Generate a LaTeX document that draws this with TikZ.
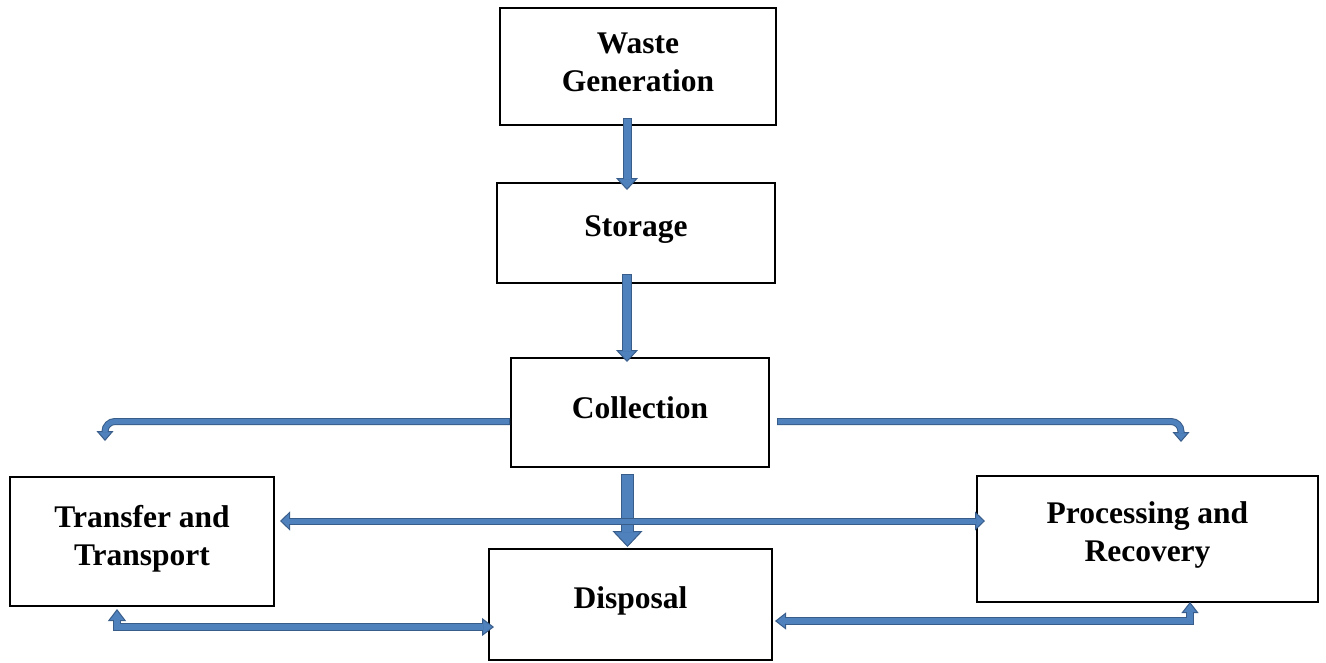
\documentclass[tikz,border=0pt]{standalone}
\usepackage{fontspec}
\setmainfont{Liberation Serif}
\usetikzlibrary{arrows.meta,calc}
\definecolor{afill}{HTML}{4F81BD}
\definecolor{aline}{HTML}{385D8A}
\tikzset{
  txt/.style={align=center, inner sep=0pt, font=\bfseries\fontsize{31.5}{38}\selectfont},
  box/.style n args={2}{draw=black, line width=2pt, inner sep=0pt,
    label={[txt, yshift=#2]center:#1}},
  blk/.style n args={5}{line width=#1, draw=aline,
    -{Triangle[length=#4, width=#3, line width=1pt, fill=afill]},
    postaction={draw=afill, line width=#2, arrows=-, shorten >=#5, shorten <=1pt}},
  blkd/.style n args={5}{line width=#1, draw=aline,
    {Triangle[length=#4, width=#3, line width=1pt, fill=afill]}-{Triangle[length=#4, width=#3, line width=1pt, fill=afill]},
    postaction={draw=afill, line width=#2, arrows=-, shorten >=#5, shorten <=#5}}
}
\begin{document}
\begin{tikzpicture}[x=1pt,y=-1pt]
\useasboundingbox (0,0) rectangle (1326,662);
\node[box={Waste\\Generation}{4pt}, minimum width=276, minimum height=117] (wg) at (638,66.5) {};
\node[box={Storage}{3pt}, minimum width=278, minimum height=100] (st) at (636,233) {};
\node[box={Collection}{5pt}, minimum width=258, minimum height=109] (co) at (640,412.5) {};
\node[box={Transfer and\\Transport}{3pt}, minimum width=264, minimum height=129] (tt) at (142,541.5) {};
\node[box={Disposal}{4pt}, minimum width=283, minimum height=111] (di) at (630.5,604.5) {};
\node[box={Processing and\\Recovery}{4pt}, minimum width=341, minimum height=126] (pr) at (1147.5,539) {};

\draw[blk={9pt}{7pt}{22pt}{12pt}{10.8pt}] ($(wg.south)+(-11,-8)$) -- ($(st.north)+(-9,8)$);
\draw[blk={10pt}{8pt}{22pt}{12pt}{10.8pt}] ($(st.south)+(-9,-10)$) -- ($(co.north)+(-13,5)$);
\draw[blk={13pt}{11pt}{30pt}{16pt}{14.8pt}] ($(co.south)+(-12.5,6)$) -- ($(di.north)+(-3,-1)$);
\draw[blk={7pt}{5pt}{17pt}{10pt}{8.8pt}, rounded corners=10pt] ($(co.west)+(0,9)$) -| ($(tt.north)+(-37,-35)$);
\draw[blk={7pt}{5pt}{17pt}{10pt}{8.8pt}, rounded corners=10pt] ($(co.east)+(7,9)$) -| ($(pr.north)+(33.5,-33)$);
\draw[blkd={7pt}{5pt}{19pt}{10pt}{8.8pt}] ($(tt.east)+(5,-20.5)$) -- ($(pr.west)+(9,-18)$);
\draw[blkd={8pt}{6pt}{18pt}{12pt}{10.8pt}] ($(tt.south)+(-25,2)$) |- ($(di.west)+(6,22.5)$);
\draw[blkd={8pt}{6pt}{17pt}{11pt}{9.8pt}] ($(di.east)+(2,16.5)$) -| ($(pr.south)+(42.5,-1)$);
\end{tikzpicture}
\end{document}
